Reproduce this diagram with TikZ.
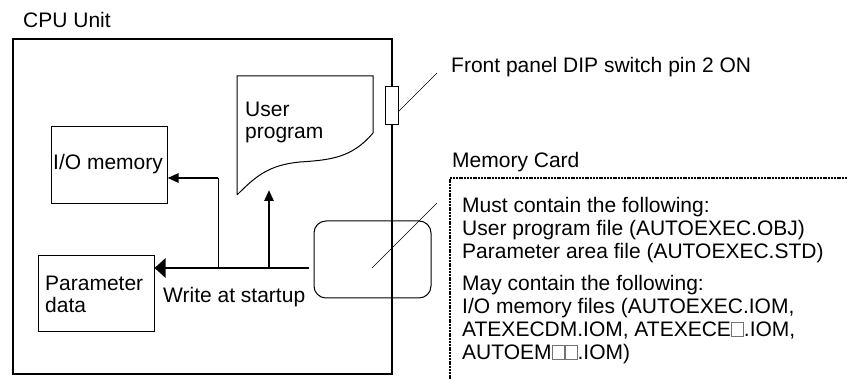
\documentclass[tikz,border=0pt]{standalone}
\usepackage{fontspec}
\setmainfont{Liberation Sans}
\usetikzlibrary{arrows.meta}
\newcommand{\wsq}{\textcolor{black!55}{\fboxsep=0pt\fboxrule=0.5pt\fbox{\rule{0pt}{14pt}\hspace{11.5pt}}}\hspace{0.5pt}}
\begin{document}
\begin{tikzpicture}[x=1pt,y=-1pt,
  txt/.style={inner sep=0pt,anchor=base west,font=\fontsize{21}{23}\selectfont},
  blk/.style={txt,align=left},
  thinbox/.style={draw,line width=1pt},
  thinline/.style={line width=0.8pt},
  thick arrow/.style={line width=2.6pt},
  bighead/.style={-{Triangle[length=11pt,width=19pt]}},
  smallhead/.style={-{Triangle[length=11pt,width=9pt]}},
  leader/.style={line width=0.6pt},
  dashedline/.style={line width=1.3pt,dash pattern=on 2pt off 0.8pt}]
\useasboundingbox (0,0) rectangle (847,379);
% CPU unit frame
\node[txt] (cpulabel) at (23,28) {CPU Unit};
\draw[line width=1.1pt] (13,39) rectangle (392,374);
% DIP switch
\node[draw,fill=white,line width=1pt,minimum width=13pt,minimum height=38pt,inner sep=0pt] (dip) at (391.5,106) {};
\coordinate (dipend) at (437,73);
\draw[leader] (398,112) -- (dipend);
\node[txt] (diplabel) at (451,72.5) {Front panel DIP switch pin 2 ON};
% User program document
\draw[line width=1pt] (237,195) -- (237,76) -- (373,76) -- (373,133)
  .. controls (352,158) and (330,160) .. (300,162)
  .. controls (268,165) and (255,177) .. (237,195);
\node[blk] (userprog) at (245,139) {User\\[-1pt]program};
\coordinate (upbottom) at (269,190);
% I/O memory
\node[thinbox,minimum width=116pt,minimum height=77pt,inner sep=0pt] (iomem) at (109,165.5) {};
\node[txt] (iolabel) at (53,170) {I/O memory};
% Parameter data
\node[thinbox,minimum width=116pt,minimum height=76pt,inner sep=0pt] (param) at (96,294) {};
\node[blk] (paramlabel) at (45,312.5) {Parameter\\[-1pt]data};
% Memory card
\node[draw,line width=1pt,rounded corners=12pt,minimum width=117pt,minimum height=77pt,inner sep=0pt] (card) at (372.5,259.5) {};
\coordinate (cardstart) at (309,268);
\coordinate (branchA) at (218,268);
\coordinate (branchB) at (269,268);
\coordinate (branchTop) at (218,178);
% arrows
\draw[thick arrow,bighead] (cardstart) -- (param.east |- cardstart);
\draw[thinline] (branchA) -- (branchTop);
\draw[thick arrow,smallhead] ([xshift=0.4pt]branchTop) -- (iomem.east |- branchTop);
\draw[thick arrow,smallhead] (branchB) -- (upbottom);
\node[txt] (write) at (163,303) {Write at startup};
% memory card leader
\coordinate (cardend) at (437,203);
\draw[leader] (372,268) -- (cardend);
\node[txt] (cardlabel) at (452,168) {Memory Card};
% dashed description frame
\coordinate (dNW) at (450,178);
\draw[dashedline] (847,178) -- (dNW) -- (450,379);
\node[blk] (must) at (462,258.5) {Must contain the following:\\User program file (AUTOEXEC.OBJ)\\Parameter area file (AUTOEXEC.STD)};
\node[blk] (may) at (462,359.5) {May contain the following:\\I/O memory files (AUTOEXEC.IOM,\\ATEXECDM.IOM, ATEXECE\wsq.IOM,\\AUTOEM\wsq\wsq.IOM)};
\end{tikzpicture}
\end{document}
